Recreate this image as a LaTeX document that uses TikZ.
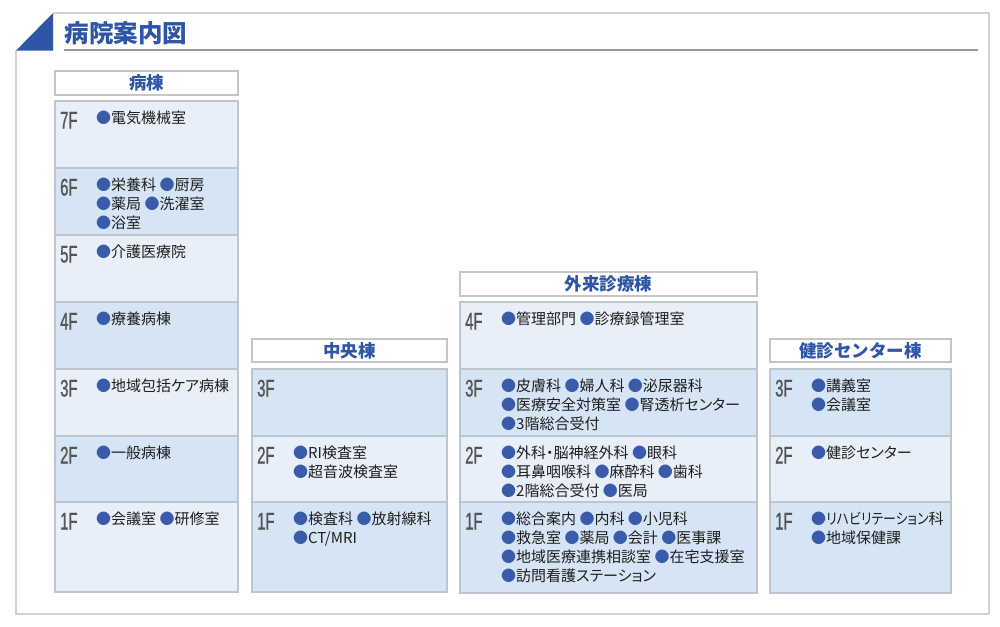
\documentclass[tikz,border=0pt]{standalone}
\usepackage{fontspec}
\usepackage{graphicx}
\newfontfamily\jp{Noto Sans CJK JP}[RawFeature={+palt}]
\newfontfamily\jphead{Noto Sans CJK JP}
\newfontfamily\flr{Liberation Sans}[FakeStretch=0.62,FakeBold=0.9]
\definecolor{titleblue}{HTML}{2F55A6}
\definecolor{bulletblue}{HTML}{3A5BAA}
\definecolor{framegray}{HTML}{D2D2D2}
\definecolor{linegray}{HTML}{9A9A9A}
\definecolor{boxgray}{HTML}{BFC5CC}
\definecolor{hdrgray}{HTML}{C6C6C6}
\definecolor{flpale}{HTML}{E9EFF8}
\definecolor{flblue}{HTML}{D5E5F5}
\definecolor{flrtext}{HTML}{555555}
\definecolor{itemtext}{HTML}{1E1E1E}
\newcommand{\bl}{{\color{bulletblue}●}}
\tikzset{
  floorbox/.style={draw=boxgray, line width=1.1pt, inner sep=0pt, outer sep=0pt, anchor=north west},
  hdrbox/.style={draw=hdrgray, line width=1.1pt, fill=white, inner sep=0pt, outer sep=0pt, anchor=north west},
  hdrtext/.style={inner sep=0pt, font=\jphead\bfseries\fontsize{17.5}{20}\selectfont, text=titleblue},
  flrlbl/.style={anchor=base west, inner sep=0pt, font=\flr\fontsize{24}{26}\selectfont, text=flrtext},
  itm/.style={anchor=base west, inner sep=0pt, font=\jp\fontsize{15}{19}\selectfont, text=itemtext},
}
% name, x1, x2, top, bottom, fill, label
\newcommand{\flbox}[7]{%
  \node[floorbox, fill=#6, minimum width={(#3-#2)*1pt}, minimum height={(#5-#4)*1pt}] (#1) at (#2,#4) {};
  \node[flrlbl] (#1lbl) at ([xshift=5pt,yshift=-27.5pt]#1.north west) {#7};
}
% name, floor, yshift, text
\newcommand{\itm}[4]{%
  \node[itm] (#1) at ([xshift=41pt,yshift=-#3pt]#2.north west) {#4};
}
% name, x1, x2, top, bottom, text
\newcommand{\hdr}[6]{%
  \node[hdrbox, minimum width={(#3-#2)*1pt}, minimum height={(#5-#4)*1pt}] (#1) at (#2,#4) {};
  \node[hdrtext] (#1txt) at (#1.center) {#6};
}
\begin{document}
\begin{tikzpicture}[x=1pt,y=-1pt]
\useasboundingbox[fill=white] (0,0) rectangle (1000,626);
% frame
\draw[framegray, line width=1.3pt] (16,50) -- (16,614) -- (989,614) -- (989,13) -- (53,13);
\fill[titleblue] (16,50.6) -- (53,13) -- (53,50.6) -- cycle;
\draw[linegray, line width=1.4pt] (64,50) -- (978,50);
\node[anchor=base west, inner sep=0pt, font=\jphead\bfseries\fontsize{24.5}{28}\selectfont, text=titleblue] (title) at (64.5,42) {病院案内図};

% ===== 病棟 =====
\hdr{hL}{55}{238}{71}{95}{病棟}
\flbox{L7}{55}{238}{101}{168}{flpale}{7F}
\flbox{L6}{55}{238}{168}{235}{flblue}{6F}
\flbox{L5}{55}{238}{235}{302}{flpale}{5F}
\flbox{L4}{55}{238}{302}{369}{flblue}{4F}
\flbox{L3}{55}{238}{369}{436}{flpale}{3F}
\flbox{L2}{55}{238}{436}{502}{flblue}{2F}
\flbox{L1}{55}{238}{502}{592}{flpale}{1F}
\itm{L7a}{L7}{22}{\bl 電気機械室}
\itm{L6a}{L6}{22}{\bl 栄養科 \bl 厨房}
\itm{L6b}{L6}{41}{\bl 薬局 \bl 洗濯室}
\itm{L6c}{L6}{60}{\bl 浴室}
\itm{L5a}{L5}{22}{\bl 介護医療院}
\itm{L4a}{L4}{22}{\bl 療養病棟}
\itm{L3a}{L3}{22}{\bl 地域包括ケア病棟}
\itm{L2a}{L2}{22}{\bl 一般病棟}
\itm{L1a}{L1}{22}{\bl 会議室 \bl 研修室}

% ===== 中央棟 =====
\hdr{hC}{252}{447}{339}{362}{中央棟}
\flbox{C3}{252}{447}{369}{436}{flblue}{3F}
\flbox{C2}{252}{447}{436}{502}{flpale}{2F}
\flbox{C1}{252}{447}{502}{592}{flblue}{1F}
\itm{C2a}{C2}{22}{\bl RI検査室}
\itm{C2b}{C2}{41}{\bl 超音波検査室}
\itm{C1a}{C1}{22}{\bl 検査科 \bl 放射線科}
\itm{C1b}{C1}{41}{\bl CT/MRI}

% ===== 外来診療棟 =====
\hdr{hG}{460}{757}{272}{296}{外来診療棟}
\flbox{G4}{460}{757}{302}{369}{flpale}{4F}
\flbox{G3}{460}{757}{369}{436}{flblue}{3F}
\flbox{G2}{460}{757}{436}{502}{flpale}{2F}
\flbox{G1}{460}{757}{502}{593}{flblue}{1F}
\itm{G4a}{G4}{22}{\bl 管理部門 \bl 診療録管理室}
\itm{G3a}{G3}{22}{\bl 皮膚科 \bl 婦人科 \bl 泌尿器科}
\itm{G3b}{G3}{41}{\bl 医療安全対策室 \bl 腎透析センター}
\itm{G3c}{G3}{60}{\bl 3階総合受付}
\itm{G2a}{G2}{22}{\bl 外科・脳神経外科 \bl 眼科}
\itm{G2b}{G2}{41}{\bl 耳鼻咽喉科 \bl 麻酔科 \bl 歯科}
\itm{G2c}{G2}{60}{\bl 2階総合受付 \bl 医局}
\itm{G1a}{G1}{22}{\bl 総合案内 \bl 内科 \bl 小児科}
\itm{G1b}{G1}{41}{\bl 救急室 \bl 薬局 \bl 会計 \bl 医事課}
\itm{G1c}{G1}{60}{\bl 地域医療連携相談室 \bl 在宅支援室}
\itm{G1d}{G1}{79}{\bl 訪問看護ステーション}

% ===== 健診センター棟 =====
\hdr{hK}{770}{951}{339}{362}{健診センター棟}
\flbox{K3}{770}{951}{369}{436}{flblue}{3F}
\flbox{K2}{770}{951}{436}{502}{flpale}{2F}
\flbox{K1}{770}{951}{502}{593}{flblue}{1F}
\itm{K3a}{K3}{22}{\bl 講義室}
\itm{K3b}{K3}{41}{\bl 会議室}
\itm{K2a}{K2}{22}{\bl 健診センター}
\itm{K1a}{K1}{22}{\bl \scalebox{0.86}[1]{リハビリテーション}科}
\itm{K1b}{K1}{41}{\bl 地域保健課}
\end{tikzpicture}
\end{document}
